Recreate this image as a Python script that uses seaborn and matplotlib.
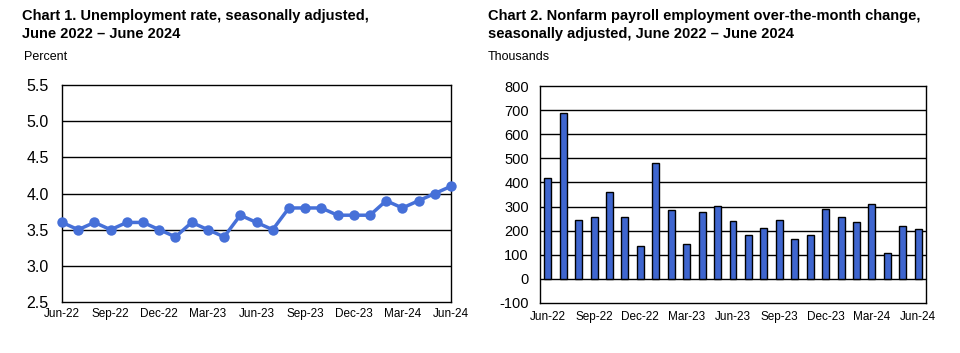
import matplotlib
matplotlib.use("Agg")
import matplotlib.pyplot as plt
import seaborn as sns
import pandas as pd
import numpy as np

months = ["Jun-22","Jul-22","Aug-22","Sep-22","Oct-22","Nov-22","Dec-22",
          "Jan-23","Feb-23","Mar-23","Apr-23","May-23","Jun-23","Jul-23",
          "Aug-23","Sep-23","Oct-23","Nov-23","Dec-23","Jan-24","Feb-24",
          "Mar-24","Apr-24","May-24","Jun-24"]
unemployment = [3.6,3.5,3.6,3.5,3.6,3.6,3.5,3.4,3.6,3.5,3.4,3.7,3.6,3.5,
                3.8,3.8,3.8,3.7,3.7,3.7,3.9,3.8,3.9,4.0,4.1]
payroll = [420,690,245,258,360,258,138,482,287,146,279,303,240,184,
           212,245,166,182,290,256,236,310,108,218,206]
left_yticks = [2.5,3.0,3.5,4.0,4.5,5.0,5.5]
right_yticks = [-100,0,100,200,300,400,500,600,700,800]

sns.set_theme(style="white")
plt.rcParams['font.family'] = ['Liberation Sans', 'DejaVu Sans']
plt.rcParams['text.color'] = 'black'
plt.rcParams['xtick.color'] = 'black'
plt.rcParams['ytick.color'] = 'black'

fig = plt.figure(figsize=(9.6, 3.53), dpi=100)
W, H = 960, 353
def ax_rect(l, t, r, b):
    return [l / W, 1 - b / H, (r - l) / W, (b - t) / H]

ax1 = fig.add_axes(ax_rect(62, 85, 451, 302))
ax2 = fig.add_axes(ax_rect(540, 86, 926, 303))

df1 = pd.DataFrame({"idx": np.arange(len(months)), "rate": unemployment})
sns.lineplot(data=df1, x="idx", y="rate", ax=ax1, color="#4670d8",
             linewidth=2.5, marker="o", markersize=7.5, markeredgewidth=0,
             clip_on=False, zorder=4)
ax1.set_xlim(0, len(months) - 1)
ax1.set_ylim(2.5, 5.5)
ax1.set_yticks(left_yticks)
ax1.set_yticklabels([f"{v:.1f}" for v in left_yticks], fontsize=11.5)
ax1.set_xticks(range(len(months)))
ax1.set_xticklabels([m if i % 3 == 0 else "" for i, m in enumerate(months)], fontsize=8.5)
ax1.tick_params(axis="x", direction="in", length=5, width=0.8, color="black", pad=4)
ax1.tick_params(axis="y", length=0, pad=9.5)
for v in left_yticks[1:-1]:
    ax1.axhline(v, color="black", linewidth=1, zorder=0)
ax1.set_xlabel("")
ax1.set_ylabel("")

df2 = pd.DataFrame({"month": months, "change": payroll})
sns.barplot(data=df2, x="month", y="change", ax=ax2, color="#3f66cf",
            saturation=1, width=0.45, edgecolor="black", linewidth=1.0, zorder=3)
ax2.set_xlim(-0.5, len(months) - 0.5)
ax2.set_ylim(-100, 800)
ax2.set_yticks(right_yticks)
ax2.set_yticklabels([str(v) for v in right_yticks], fontsize=10.5)
ax2.set_xticks(range(len(months)))
ax2.set_xticklabels([m if i % 3 == 0 else "" for i, m in enumerate(months)], fontsize=8.5)
ax2.tick_params(axis="x", length=0, pad=6)
ax2.tick_params(axis="y", length=0, pad=8)
for v in right_yticks[1:-1]:
    ax2.axhline(v, color="black", linewidth=1, zorder=1)
ax2.set_xlabel("")
ax2.set_ylabel("")

for ax in (ax1, ax2):
    for s in ax.spines.values():
        s.set_visible(True)
        s.set_color("black")
        s.set_linewidth(1)
    ax.tick_params(colors="black", labelcolor="black")

fig.text(22 / W, 1 - 9 / H, "Chart 1. Unemployment rate, seasonally adjusted,\nJune 2022 \u2013 June 2024",
         fontsize=10.5, fontweight="bold", va="top", ha="left", linespacing=1.35, color="black")
fig.text(24 / W, 1 - 51 / H, "Percent", fontsize=9, va="top", ha="left", color="black")
fig.text(488 / W, 1 - 9 / H, "Chart 2. Nonfarm payroll employment over-the-month change,\nseasonally adjusted, June 2022 \u2013 June 2024",
         fontsize=10.5, fontweight="bold", va="top", ha="left", linespacing=1.35, color="black")
fig.text(488 / W, 1 - 51 / H, "Thousands", fontsize=9, va="top", ha="left", color="black")

fig.savefig("out.png", dpi=100)
